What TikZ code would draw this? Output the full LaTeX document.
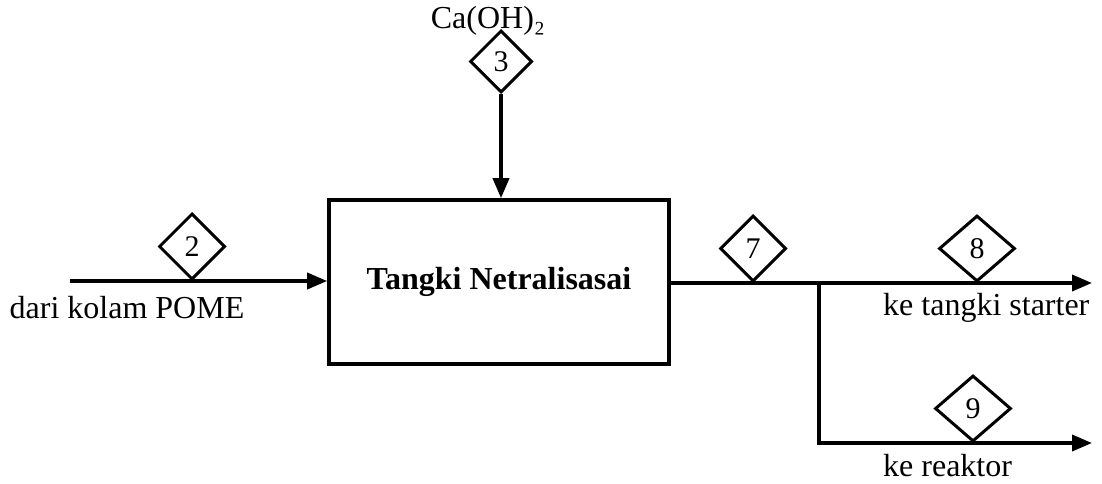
\documentclass[tikz,border=0pt]{standalone}
\usepackage{fontspec}
\setmainfont{Liberation Serif}
\usetikzlibrary{shapes.geometric,arrows.meta}
\begin{document}
\begin{tikzpicture}[x=1pt,y=-1pt,
  flow/.style={line width=3.6pt,-{Triangle[length=20pt,width=16pt]}},
  plain/.style={line width=3.6pt},
  stream/.style={diamond,draw,line width=3pt,inner sep=0pt,minimum width=66pt,minimum height=66pt,font=\fontsize{30}{34}\selectfont},
  lbl/.style={font=\fontsize{32}{36}\selectfont,inner sep=0pt}]
\useasboundingbox (0,0) rectangle (1102,484);
\node[draw,line width=3.6pt,minimum width=340pt,minimum height=164pt,inner sep=0pt,font=\fontsize{32}{36}\selectfont\bfseries] (box) at (499,282) {Tangki Netralisasai};
\coordinate (src) at (70,281);
\coordinate (br) at (819,283);
\coordinate (out1) at (1092,283);
\coordinate (out2) at (1092,443);
\coordinate (bend) at (819,443);
\node[stream,anchor=south] (d2) at (192,281) {2};
\node[stream,minimum width=62pt,minimum height=62pt,anchor=south] (d3) at (501,94) {3};
\node[stream,anchor=south] (d7) at (753,283) {7};
\node[stream,minimum width=76pt,anchor=south] (d8) at (977,283) {8};
\node[stream,minimum width=76pt,anchor=south] (d9) at (973,443) {9};
\node[lbl] (ca) at (488,21) {Ca(OH)₂};
\node[lbl] (dari) at (127,308) {dari kolam POME};
\node[lbl,anchor=west] (kts) at (883,308) {ke tangki starter};
\node[lbl,anchor=west] (ker) at (883,466) {ke reaktor};
\draw[flow] (src) -- (box.west |- src);
\draw[flow] (d3.south) -- (d3.south |- box.north);
\draw[flow] (box.east |- out1) -- (out1);
\draw[plain] (br) -- (bend);
\draw[flow] ([xshift=-1.8pt]bend) -- (out2);
\end{tikzpicture}
\end{document}
